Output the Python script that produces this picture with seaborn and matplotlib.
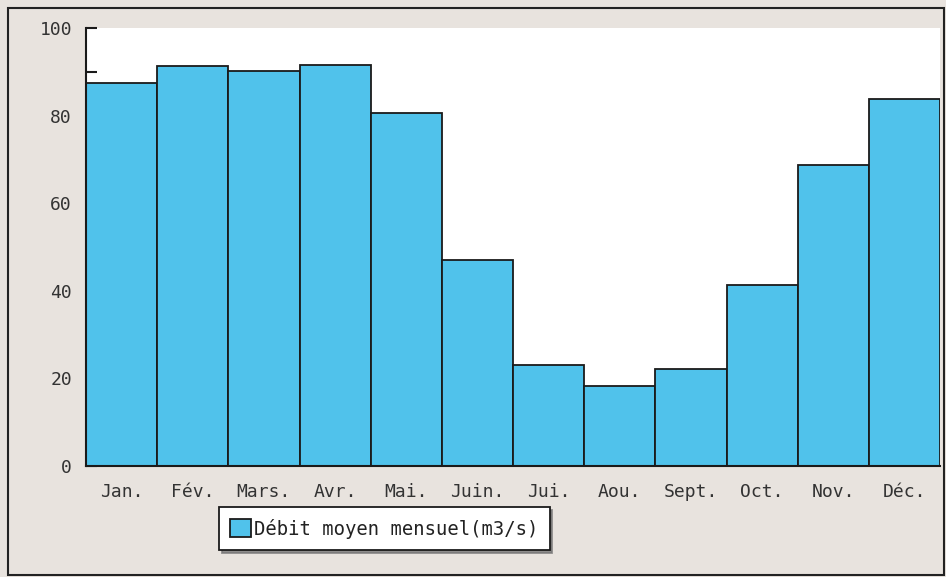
import matplotlib
matplotlib.use("Agg")
import matplotlib.pyplot as plt
import matplotlib.patches as mpatches
from matplotlib.ticker import MultipleLocator
import seaborn as sns
import pandas as pd

months = ["Jan.", "Fév.", "Mars.", "Avr.", "Mai.", "Juin.", "Jui.", "Aou.",
          "Sept.", "Oct.", "Nov.", "Déc."]
debit = [87.4, 91.3, 90.2, 91.6, 80.6, 47.0, 23.1, 18.3, 22.1, 41.3, 68.7, 83.8]
series_label = "Débit moyen mensuel(m3/s)"

bar_color = "#50c2eb"
page_color = "#e8e3de"
text_color = "#333333"

sns.set_theme(style="white")
plt.rcParams["font.family"] = ["DejaVu Sans Mono"]

df = pd.DataFrame({"mois": months, "debit": debit})

fig = plt.figure(figsize=(9.46, 5.77), dpi=100)
fig.patch.set_facecolor(page_color)
ax = fig.add_axes([86 / 946, 1 - 466 / 577, (940 - 86) / 946, (466 - 28) / 577])
ax.set_facecolor("white")

sns.barplot(data=df, x="mois", y="debit", color=bar_color, saturation=1,
            edgecolor="#1a1a1a", linewidth=1.3, width=1.0, ax=ax)

ax.set_xlim(-0.5, len(months) - 0.5)
ax.set_ylim(0, 100)
ax.set_xlabel("")
ax.set_ylabel("")
ax.yaxis.set_major_locator(MultipleLocator(20))
ax.yaxis.set_minor_locator(MultipleLocator(10))
ax.tick_params(axis="y", which="both", direction="in", length=8, width=1.5,
               color="#1a1a1a", left=True, labelsize=13, labelcolor=text_color, pad=10)
ax.tick_params(axis="x", length=0, labelsize=13, labelcolor=text_color, pad=12)

for side in ["top", "right"]:
    ax.spines[side].set_visible(False)
for side in ["left", "bottom"]:
    ax.spines[side].set_color("#1a1a1a")
    ax.spines[side].set_linewidth(1.5)

handle = mpatches.Patch(facecolor=bar_color, edgecolor="#1a1a1a", linewidth=1.3,
                        label=series_label)
leg = fig.legend(handles=[handle], loc="lower left",
                 bbox_to_anchor=(219 / 946, 1 - 550 / 577),
                 frameon=True, fancybox=False, shadow={"color": "#777777", "alpha": 0.8},
                 fontsize=13.6, handlelength=1.1, handleheight=1.1, handletextpad=0.15,
                 borderpad=0.6, borderaxespad=0)
leg.get_frame().set_edgecolor("#1a1a1a")
leg.get_frame().set_linewidth(1.3)
leg.get_frame().set_facecolor("white")
for t in leg.get_texts():
    t.set_color("#222222")

# outer page frame
fig.patches.append(mpatches.Rectangle((8 / 946, 2 / 577), (944 - 8) / 946, (575 - 8) / 577,
                                      transform=fig.transFigure, fill=False,
                                      edgecolor="#222222", linewidth=1.5))

fig.savefig("out.png", dpi=100, facecolor=fig.get_facecolor())
